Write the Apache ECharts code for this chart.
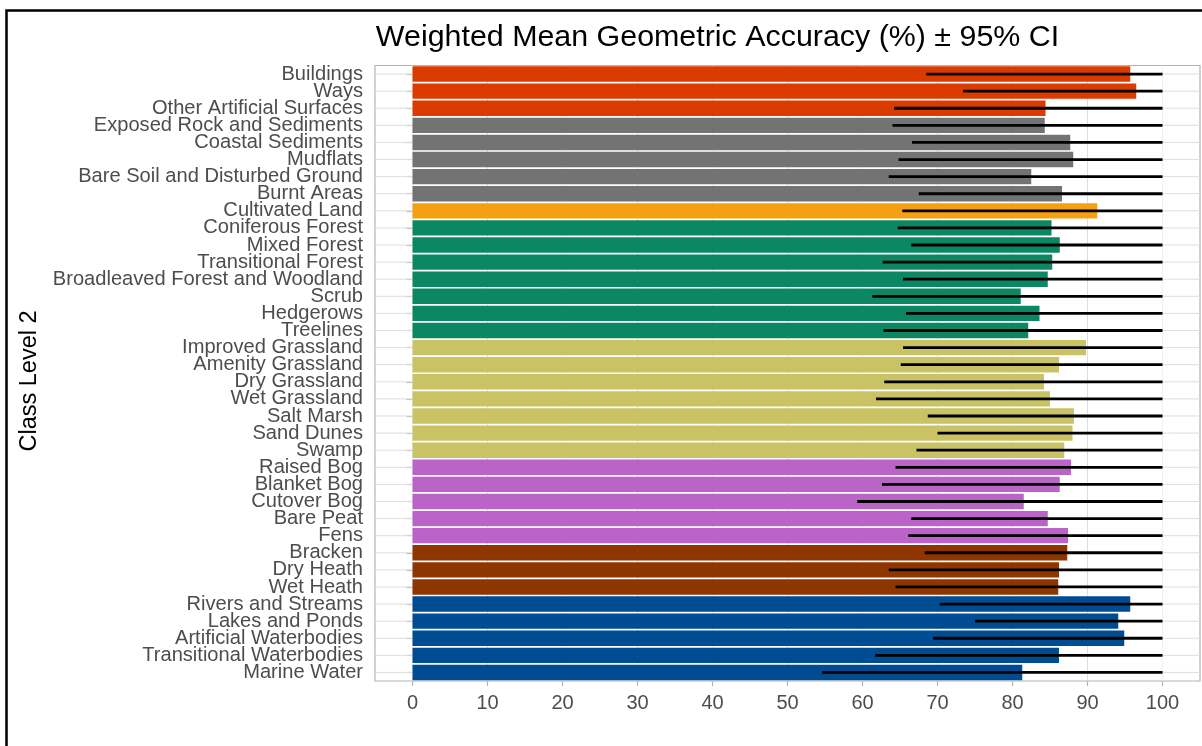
<!DOCTYPE html>
<html>
<head>
<meta charset="utf-8">
<script src="https://cdn.jsdelivr.net/npm/echarts@6/dist/echarts.min.js"></script>
<style>
html,body{margin:0;padding:0;background:#fff;}
#chart{width:1202px;height:746px;}
</style>
</head>
<body>
<div id="chart"></div>
<script>
const categories = [
  "Buildings","Ways","Other Artificial Surfaces",
  "Exposed Rock and Sediments","Coastal Sediments","Mudflats","Bare Soil and Disturbed Ground","Burnt Areas",
  "Cultivated Land",
  "Coniferous Forest","Mixed Forest","Transitional Forest","Broadleaved Forest and Woodland","Scrub","Hedgerows","Treelines",
  "Improved Grassland","Amenity Grassland","Dry Grassland","Wet Grassland","Salt Marsh","Sand Dunes","Swamp",
  "Raised Bog","Blanket Bog","Cutover Bog","Bare Peat","Fens",
  "Bracken","Dry Heath","Wet Heath",
  "Rivers and Streams","Lakes and Ponds","Artificial Waterbodies","Transitional Waterbodies","Marine Water"
];
const groups = [
  "Artificial","Artificial","Artificial",
  "Bare","Bare","Bare","Bare","Bare",
  "Cultivated",
  "Forest","Forest","Forest","Forest","Forest","Forest","Forest",
  "Grassland","Grassland","Grassland","Grassland","Grassland","Grassland","Grassland",
  "Peatland","Peatland","Peatland","Peatland","Peatland",
  "Heath","Heath","Heath",
  "Water","Water","Water","Water","Water"
];
const meanAccuracy = [
  95.7, 96.5, 84.4,
  84.3, 87.7, 88.1, 82.5, 86.6,
  91.3,
  85.2, 86.3, 85.3, 84.7, 81.1, 83.6, 82.1,
  89.8, 86.2, 84.2, 85.0, 88.2, 88.0, 86.9,
  87.8, 86.3, 81.5, 84.7, 87.4,
  87.3, 86.2, 86.1,
  95.7, 94.1, 94.9, 86.2, 81.3
];
const ciLower = [
  68.5, 73.4, 64.2,
  64.0, 66.6, 64.8, 63.5, 67.5,
  65.3,
  64.7, 66.5, 62.7, 65.4, 61.3, 65.8, 62.8,
  65.4, 65.1, 62.9, 61.8, 68.7, 70.0, 67.2,
  64.4, 62.6, 59.3, 66.5, 66.1,
  68.3, 63.5, 64.4,
  70.3, 75.0, 69.4, 61.7, 54.6
];
const ciUpper = [
  100,100,100,
  100,100,100,100,100,
  100,
  100,100,100,100,100,100,100,
  100,100,100,100,100,100,100,
  100,100,100,100,100,
  100,100,100,
  100,100,100,100,100
];
const xTickLabels = [0,10,20,30,40,50,60,70,80,90,100];

const groupColors = {
  Artificial: "#DC3B00",
  Bare: "#737373",
  Cultivated: "#F5A013",
  Forest: "#0C8763",
  Grassland: "#C9C366",
  Peatland: "#BA64C8",
  Heath: "#8E3500",
  Water: "#004C92"
};

const FONT = "Liberation Sans, Arial, sans-serif";
const chart = echarts.init(document.getElementById('chart'), null, {renderer: 'canvas'});

const option = {
  backgroundColor: '#ffffff',
  animation: false,
  graphic: [
    {
      type: 'rect', silent: true, z: 100,
      shape: {x: 6.5, y: 10.5, width: 1400, height: 900},
      style: {fill: 'none', stroke: '#000', lineWidth: 2.5}
    },
    {
      type: 'text', silent: true,
      x: 717.5, y: 38,
      style: {
        text: 'Weighted Mean Geometric Accuracy (%) ± 95% CI',
        font: '30.4px ' + FONT, fill: '#000',
        align: 'center', verticalAlign: 'middle'
      }
    },
    {
      type: 'text', silent: true,
      x: 30, y: 381, rotation: Math.PI / 2,
      style: {
        text: 'Class Level 2',
        font: '23.5px ' + FONT, fill: '#000',
        align: 'center', verticalAlign: 'middle'
      }
    }
  ],
  grid: {
    left: 375, right: 2, top: 65.5, bottom: 65,
    show: true, borderColor: '#b3b3b3', borderWidth: 1.2, backgroundColor: 'transparent'
  },
  xAxis: {
    type: 'value', min: -5, max: 105, interval: 5,
    axisLine: {show: false},
    axisTick: {show: true, length: 5, lineStyle: {color: '#b3b3b3', width: 1.2}, customValues: xTickLabels},
    axisLabel: {
      customValues: xTickLabels,
      color: '#4d4d4d', fontSize: 20, fontFamily: FONT, margin: 12
    },
    splitLine: {show: true, lineStyle: {color: ['#f0f0f0', '#dedede'], width: 1}}
  },
  yAxis: {
    type: 'category', data: categories, inverse: true,
    axisLine: {show: false},
    axisTick: {show: true, alignWithLabel: true, length: 6, lineStyle: {color: '#b3b3b3', width: 1.2}},
    axisLabel: {color: '#4d4d4d', fontSize: 20.1, fontFamily: FONT, margin: 12, interval: 0, padding: [4, 0, 0, 0]},
    splitLine: {show: false}
  },
  series: [
    {
      type: 'custom', z: 1, silent: true,
      data: categories.map((c, i) => [i]),
      encode: {y: 0},
      renderItem: function (params, api) {
        const i = api.value(0);
        const a = api.coord([-5, i]);
        const b = api.coord([105, i]);
        return {type: 'line', shape: {x1: a[0], y1: a[1], x2: b[0], y2: b[1]}, style: {stroke: '#dedede', lineWidth: 1}};
      }
    },
    {
      type: 'bar', z: 2,
      barWidth: '90%',
      data: meanAccuracy.map((v, i) => ({value: v, itemStyle: {color: groupColors[groups[i]]}}))
    },
    {
      type: 'custom', z: 3, silent: true,
      data: categories.map((c, i) => [ciLower[i], ciUpper[i], i]),
      encode: {x: [0, 1], y: 2},
      renderItem: function (params, api) {
        const i = api.value(2);
        const a = api.coord([api.value(0), i]);
        const b = api.coord([api.value(1), i]);
        return {type: 'line', shape: {x1: a[0], y1: a[1], x2: b[0], y2: b[1]}, style: {stroke: '#000', lineWidth: 2.8}};
      }
    }
  ]
};
chart.setOption(option);
</script>
</body>
</html>
